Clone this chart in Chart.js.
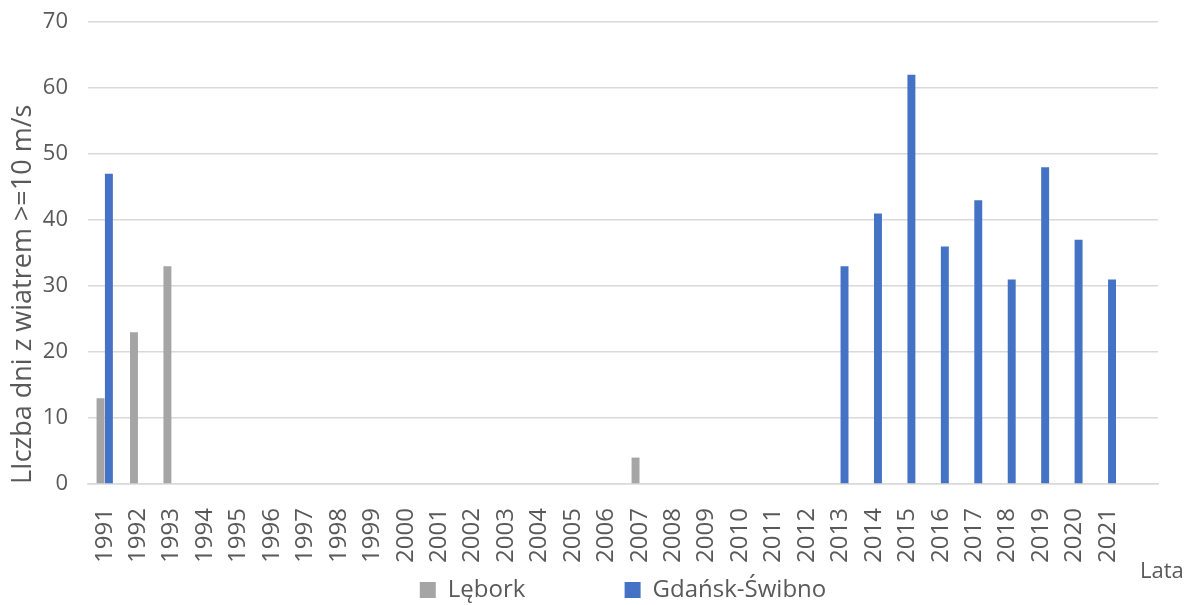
<!DOCTYPE html>
<html>
<head>
<meta charset="utf-8">
<script src="https://cdn.jsdelivr.net/npm/chart.js@4"></script>
<style>
  html, body { margin: 0; padding: 0; background: #ffffff; }
  #wrap { width: 1186px; height: 605px; position: relative; }
</style>
</head>
<body>
<div id="wrap"><canvas id="c" width="1186" height="605"></canvas></div>
<script>
const categories = ['1991','1992','1993','1994','1995','1996','1997','1998','1999','2000',
  '2001','2002','2003','2004','2005','2006','2007','2008','2009','2010',
  '2011','2012','2013','2014','2015','2016','2017','2018','2019','2020','2021',''];
const lebork = [13,23,33,null,null,null,null,null,null,null,
  null,null,null,null,null,null,4,null,null,null,
  null,null,null,null,null,null,null,null,null,null,null,null];
const gdanskSwibno = [47,null,null,null,null,null,null,null,null,null,
  null,null,null,null,null,null,null,null,null,null,
  null,null,33,41,62,36,43,31,48,37,31,null];
const yTicks = [0,10,20,30,40,50,60,70];
const seriesNames = ['Lębork','Gdańsk-Świbno'];
const yTitle = 'LIczba dni z wiatrem >=10 m/s';
const xTitle = 'Lata';

const FONT = "'Open Sans', 'DejaVu Sans', sans-serif";
const TXT = '#595959';

const xTitlePlugin = {
  id: 'xTitlePlugin',
  afterDraw(chart) {
    const ctx = chart.ctx;
    ctx.save();
    ctx.font = "22px " + FONT;
    ctx.fillStyle = TXT;
    ctx.textAlign = 'left';
    ctx.textBaseline = 'middle';
    ctx.fillText(xTitle, chart.width - 46, chart.height - 33);
    ctx.restore();
  }
};

new Chart(document.getElementById('c'), {
  type: 'bar',
  data: {
    labels: categories,
    datasets: [
      { label: seriesNames[0], data: lebork, backgroundColor: '#a5a5a5',
        categoryPercentage: 0.5, barPercentage: 0.95 },
      { label: seriesNames[1], data: gdanskSwibno, backgroundColor: '#4472c4',
        categoryPercentage: 0.5, barPercentage: 0.95 }
    ]
  },
  options: {
    responsive: false,
    animation: false,
    layout: { padding: { left: 3, right: 28, top: 22, bottom: -7 } },
    plugins: {
      tooltip: { enabled: false },
      legend: {
        position: 'bottom',
        fullSize: false,
        labels: {
          font: { family: FONT, size: 24 },
          color: TXT,
          boxWidth: 16,
          boxHeight: 16,
          padding: 12,
          generateLabels(chart) {
            const items = Chart.defaults.plugins.legend.labels.generateLabels(chart);
            items.forEach(it => { it.lineWidth = 0; });
            items[0].text = items[0].text + '\u00a0'.repeat(14);
            return items;
          }
        }
      }
    },
    scales: {
      x: {
        afterFit(axis) { axis.height = 82; axis.paddingLeft = 0; axis.paddingRight = 0; },
        grid: { display: false, drawTicks: false },
        border: { display: true, color: '#d9d9d9', width: 1.5 },
        ticks: {
          font: { family: FONT, size: 24 },
          color: TXT,
          minRotation: 90,
          maxRotation: 90,
          autoSkip: false,
          padding: 24
        }
      },
      y: {
        min: 0,
        max: 70,
        afterBuildTicks(axis) { axis.ticks = yTicks.map(v => ({ value: v })); },
        afterFit(axis) { axis.width = 85; axis.paddingTop = 0; axis.paddingBottom = 0; },
        grid: { color: '#d9d9d9', lineWidth: 1.5, drawTicks: false },
        border: { display: false },
        ticks: {
          font: { family: FONT, size: 22 },
          color: TXT,
          padding: 20
        },
        title: {
          display: true,
          text: yTitle,
          align: 'start',
          font: { family: FONT, size: 27 },
          color: TXT,
          padding: 4
        }
      }
    }
  },
  plugins: [xTitlePlugin]
});
</script>
</body>
</html>
